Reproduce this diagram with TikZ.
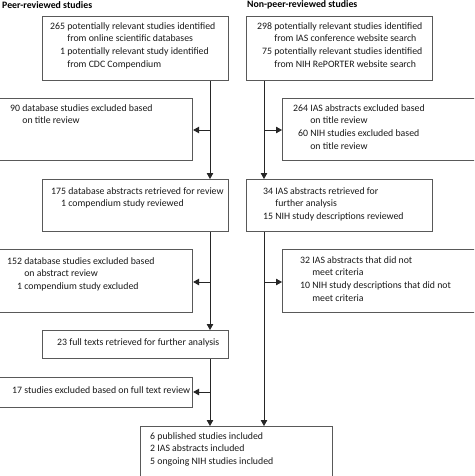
\documentclass[tikz,border=0pt]{standalone}
\usepackage{fontspec}
\setmainfont{Carlito}
\usetikzlibrary{arrows.meta}
\tikzset{
  box/.style={draw=boxgray, line width=1.1pt, fill=white, inner sep=0pt, anchor=north west},
  txt/.style={inner sep=0pt, anchor=north west, align=left, font=\fontsize{9.8}{12.7}\selectfont, text=black!90},
  head/.style={inner sep=0pt, anchor=west, font=\fontsize{9.8}{10}\selectfont\bfseries},
  flow/.style={draw=black!85, line width=0.9pt},
  arr/.style={flow, -{Triangle[length=6pt,width=6.5pt]}},
}
\definecolor{boxgray}{gray}{0.35}
\begin{document}
\begin{tikzpicture}[x=1pt,y=-1pt]
\useasboundingbox (0,0) rectangle (474,476);
\clip (0,0) rectangle (474,476);
\fill[white] (0,0) rectangle (474,476);
% headings
\node[head] (h1) at (2,5) {Peer-reviewed studies};
\node[head] (h2) at (247,5) {Non-peer-reviewed studies};
% columns
\coordinate (xL) at (210,0);
\coordinate (xR) at (264,0);
% boxes
\node[box, minimum width=186pt, minimum height=64pt] (b1) at (42,16) {};
\node[box, minimum width=186pt, minimum height=64pt] (b2) at (246,16) {};
\node[box, minimum width=193pt, minimum height=62pt] (b3) at (-1,98) {};
\node[box, minimum width=194pt, minimum height=62pt] (b4) at (282,98) {};
\node[box, minimum width=186pt, minimum height=52pt] (b5) at (42,179) {};
\node[box, minimum width=186pt, minimum height=52pt] (b6) at (246,179) {};
\node[box, minimum width=193pt, minimum height=63pt] (b7) at (-1,249) {};
\node[box, minimum width=194pt, minimum height=63pt] (b8) at (282,249) {};
\node[box, minimum width=186pt, minimum height=28pt] (b9) at (42,330) {};
\node[box, minimum width=193pt, minimum height=30pt] (b10) at (-1,377) {};
\node[box, minimum width=192pt, minimum height=54pt] (b11) at (140,426) {};
% texts
\node[txt] (t1) at (50,22) {265 potentially relevant studies identified\\\hphantom{265~}from online scientific databases\\\hphantom{26}1 potentially relevant study identified\\\hphantom{265~}from CDC Compendium};
\node[txt] (t2) at (257,22) {298 potentially relevant studies identified\\\hphantom{298~}from IAS conference website search\\\hphantom{2}75 potentially relevant studies identified\\\hphantom{298~}from NIH RePORTER website search};
\node[txt] (t3) at (10,104) {90 database studies excluded based\\\hphantom{90~}on title review};
\node[txt] (t4) at (293,104) {264 IAS abstracts excluded based\\\hphantom{264~}on title review\\\hphantom{2}60 NIH studies excluded based\\\hphantom{264~}on title review};
\node[txt] (t5) at (51,187) {175 database abstracts retrieved for review\\\hphantom{17}1 compendium study reviewed};
\node[txt] (t6) at (263,187) {34 IAS abstracts retrieved for\\\hphantom{34~}further analysis\\15 NIH study descriptions reviewed};
\node[txt] (t7) at (7,257) {152 database studies excluded based\\\hphantom{152~}on abstract review\\\hphantom{15}1 compendium study excluded};
\node[txt] (t8) at (300,256) {32 IAS abstracts that did not\\\hphantom{32~}meet criteria\\10 NIH study descriptions that did not\\\hphantom{32~}meet criteria};
\node[txt] (t9) at (57,338) {23 full texts retrieved for further analysis};
\node[txt] (t10) at (12,386) {17 studies excluded based on full text review};
\node[txt] (t11) at (150,432) {6 published studies included\\2 IAS abstracts included\\5 ongoing NIH studies included};
% connectors, left column
\draw[arr] (b1.south -| xL) -- (b5.north -| xL);
\draw[arr] (xL |- 0,130) -- (b3.east |- 0,130);
\draw[arr] (b5.south -| xL) -- (b9.north -| xL);
\draw[arr] (xL |- 0,282) -- (b7.east |- 0,282);
\draw[arr] (b9.south -| xL) -- (b11.north -| xL);
\draw[arr] (xL |- 0,392) -- (b10.east |- 0,392);
% connectors, right column
\draw[arr] (b2.south -| xR) -- (b6.north -| xR);
\draw[arr] (xR |- 0,130) -- (b4.west |- 0,130);
\draw[arr] (b6.south -| xR) -- (b11.north -| xR);
\draw[arr] (xR |- 0,282) -- (b8.west |- 0,282);
\end{tikzpicture}
\end{document}
